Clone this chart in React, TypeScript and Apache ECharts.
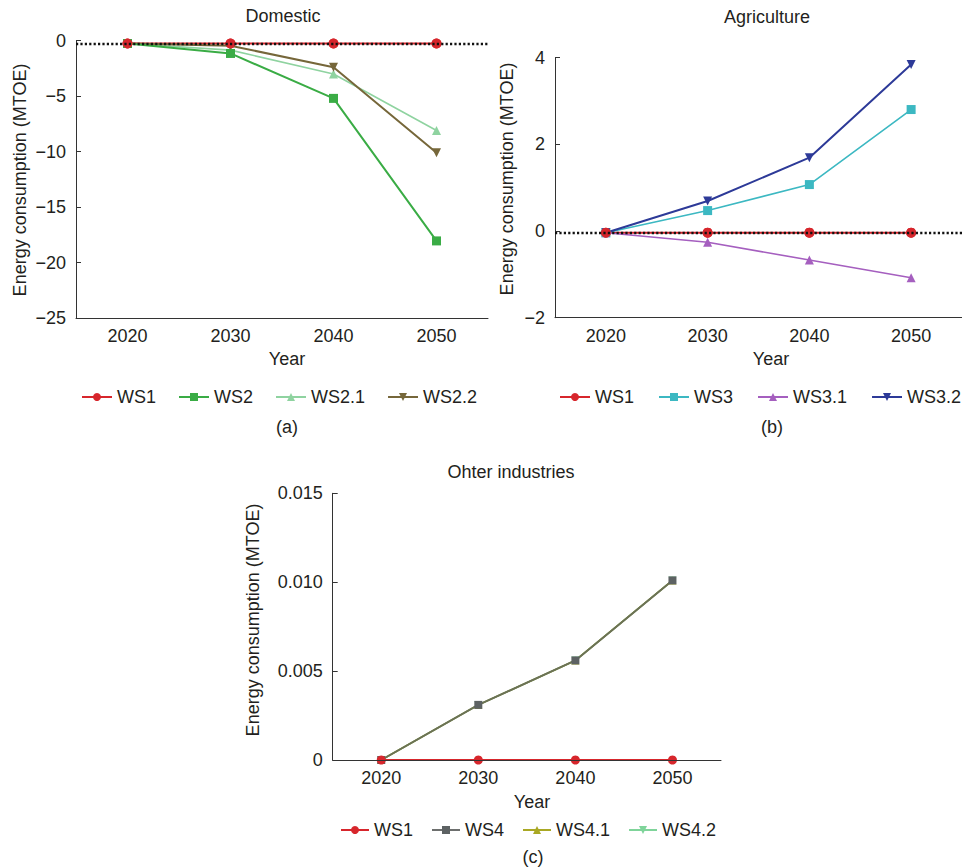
import React, { useEffect, useRef } from "react";
import * as echarts from "echarts";

const years = ["2020", "2030", "2040", "2050"];

// (a) Domestic
const domWS1 = [-0.25, -0.25, -0.25, -0.25];
const domWS2 = [-0.25, -1.15, -5.2, -18.05];
const domWS21 = [-0.25, -0.85, -3.0, -8.1];
const domWS22 = [-0.25, -0.45, -2.4, -10.1];

// (b) Agriculture
const agrWS1 = [-0.04, -0.04, -0.04, -0.04];
const agrWS3 = [-0.04, 0.47, 1.07, 2.8];
const agrWS31 = [-0.04, -0.26, -0.67, -1.08];
const agrWS32 = [-0.04, 0.69, 1.69, 3.84];

// (c) Other industries
const othWS1 = [0, 0, 0, 0];
const othWS4 = [0, 0.0031, 0.0056, 0.0101];
const othWS41 = [0, 0.0031, 0.0056, 0.0101];
const othWS42 = [0, 0.0031, 0.0056, 0.0101];

const legendA = ["WS1", "WS2", "WS2.1", "WS2.2"];
const legendB = ["WS1", "WS3", "WS3.1", "WS3.2"];
const legendC = ["WS1", "WS4", "WS4.1", "WS4.2"];

const FONT = "'Liberation Sans', Arial, Helvetica, sans-serif";
const TXT = "#231f20";
const FS = 18;

const RED = "#d7262c";

function minus(v: number) {
  return String(v).replace("-", "\u2212");
}

export default function App() {
  const ref = useRef<HTMLDivElement>(null);
  useEffect(() => {
    if (!ref.current) return;
    const chart = echarts.init(ref.current, undefined, { renderer: "svg" });

    const xAxisBase = (gridIndex: number, extra: any = {}) => ({
      type: "category",
      gridIndex,
      data: years,
      boundaryGap: true,
      axisLine: { onZero: false, lineStyle: { color: "#333", width: 1 } },
      axisTick: { alignWithLabel: true, inside: true, length: 5, lineStyle: { color: "#333" } },
      axisLabel: { color: TXT, fontSize: FS, fontFamily: FONT, margin: 9 },
      splitLine: { show: false },
      ...extra,
    });
    const yAxisBase = (gridIndex: number, min: number, max: number, interval: number, fmt: (v: number) => string) => ({
      type: "value",
      gridIndex,
      min,
      max,
      interval,
      axisLine: { show: true, lineStyle: { color: "#333", width: 1 } },
      axisTick: { show: true, inside: true, length: 5, lineStyle: { color: "#333" } },
      axisLabel: { color: TXT, fontSize: FS, fontFamily: FONT, margin: 10, formatter: fmt },
      splitLine: { show: false },
    });

    const dottedSeries = (xi: number, v: number) => ({
      type: "line",
      name: "_baseline" + xi,
      data: [],
      xAxisIndex: xi,
      yAxisIndex: xi,
      z: 3,
      silent: true,
      markLine: {
        silent: true,
        symbol: "none",
        label: { show: false },
        lineStyle: { color: "#111", type: [2.2, 2.2], width: 2.4 },
        data: [{ yAxis: v }],
      },
    });

    const line = (
      name: string,
      data: number[],
      xi: number,
      color: string,
      symbol: string,
      size: number,
      width: number,
      extra: any = {}
    ) => ({
      type: "line",
      name,
      data,
      xAxisIndex: xi,
      yAxisIndex: xi,
      symbol,
      symbolSize: size,
      showSymbol: true,
      color,
      itemStyle: { color },
      lineStyle: { color, width },
      ...extra,
    });

    const legendCommon = {
      orient: "horizontal",
      padding: 0,
      itemWidth: 30,
      itemHeight: 10,
      itemGap: 22,
      width: 600,
      textStyle: { color: TXT, fontSize: FS, fontFamily: FONT },
      selectedMode: false,
    };

    const text = (t: string, x: number, y: number, rot = 0) => ({
      type: "text",
      x,
      y,
      rotation: rot,
      style: {
        text: t,
        fill: TXT,
        fontSize: FS,
        fontFamily: FONT,
        align: "center",
        verticalAlign: "middle",
        textAlign: "center",
        textVerticalAlign: "middle",
      },
    });

    const option: any = {
      animation: false,
      backgroundColor: "#ffffff",
      grid: [
        { left: 76, top: 40.7, width: 412, height: 277.3, containLabel: false },
        { left: 555, top: 57.5, width: 414, height: 260.2, containLabel: false },
        { left: 332.7, top: 493.3, width: 388.3, height: 266.7, containLabel: false },
      ],
      xAxis: [xAxisBase(0), xAxisBase(1), xAxisBase(2, { z: 5 })],
      yAxis: [
        yAxisBase(0, -25, 0, 5, (v: number) => minus(v)),
        yAxisBase(1, -2, 4, 2, (v: number) => minus(v)),
        yAxisBase(2, 0, 0.015, 0.005, (v: number) => (v === 0 ? "0" : v.toFixed(3))),
      ],
      legend: [
        { ...legendCommon, left: 81, top: 388, data: legendA.map((n) => ({ name: n })) },
        { ...legendCommon, itemGap: 24, left: 559, top: 388, data: legendB.map((n) => ({ name: n })) },
        {
          ...legendCommon,
          itemWidth: 28,
          itemGap: 18,
          left: 340,
          top: 821,
          data: legendC.map((n) =>
            n === "WS4" ? { name: n, lineStyle: { color: "#6d6f6e" } } : { name: n }
          ),
        },
      ],
      graphic: [
        text("Domestic", 283, 16),
        text("Agriculture", 767, 17),
        text("Ohter industries", 511, 472),
        text("Year", 287, 359),
        text("Year", 771, 359),
        text("Year", 532, 802),
        text("Energy consumption (MTOE)", 20, 180, Math.PI / 2),
        text("Energy consumption (MTOE)", 507, 179, Math.PI / 2),
        text("Energy consumption (MTOE)", 253, 620, Math.PI / 2),
        text("(a)", 287, 427),
        text("(b)", 772, 427),
        text("(c)", 533, 857),
      ],
      series: [
        // (a)
        line("WS2.1", domWS21, 0, "#8fd3a0", "triangle", 9, 1.6),
        line("WS2.2", domWS22, 0, "#76673a", "triangle", 9, 2, { symbolRotate: 180 }),
        line("WS2", domWS2, 0, "#3aac45", "rect", 9, 2),
        line("WS1", domWS1, 0, RED, "circle", 10, 2, { z: 2 }),
        dottedSeries(0, -0.25),
        line("WS1", domWS1, 0, RED, "circle", 10, 2, { z: 4, lineStyle: { opacity: 0, width: 0 } }),
        // (b)
        line("WS3.1", agrWS31, 1, "#a55fbf", "triangle", 9, 1.6),
        line("WS3", agrWS3, 1, "#3cb8c2", "rect", 9, 1.6),
        line("WS3.2", agrWS32, 1, "#2d3a98", "triangle", 9, 2, { symbolRotate: 180 }),
        line("WS1", agrWS1, 1, RED, "circle", 10, 2, { z: 2 }),
        dottedSeries(1, -0.04),
        line("WS1", agrWS1, 1, RED, "circle", 10, 2, { z: 4, lineStyle: { opacity: 0, width: 0 } }),
        // (c)
        line("WS4.2", othWS42, 2, "#7fd49a", "triangle", 8, 1.6, { symbolRotate: 180 }),
        line("WS4.1", othWS41, 2, "#a9a824", "triangle", 8, 1.6),
        line("WS4", othWS4, 2, "#6b7157", "rect", 8, 2, { itemStyle: { color: "#5d6263" } }),
        line("WS1", othWS1, 2, RED, "circle", 9, 2),
      ],
    };

    chart.setOption(option);
    return () => chart.dispose();
  }, []);

  return (
    <div
      ref={ref}
      style={{ position: "fixed", left: 0, top: 0, width: 962, height: 867, background: "#fff" }}
    />
  );
}
